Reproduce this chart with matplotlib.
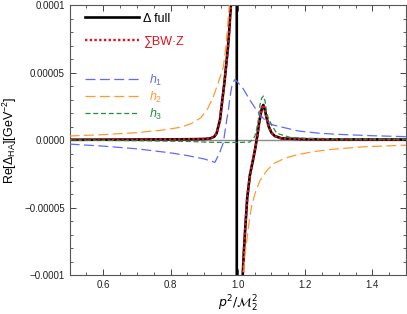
import numpy as np
import matplotlib
matplotlib.use('Agg')
import matplotlib.pyplot as plt
from matplotlib.lines import Line2D
from matplotlib.ticker import MultipleLocator, FixedLocator, FixedFormatter

plt.rcParams['font.family'] = ['Liberation Sans', 'DejaVu Sans']
plt.rcParams['mathtext.fontset'] = 'custom'
plt.rcParams['mathtext.rm'] = 'Liberation Sans'
plt.rcParams['mathtext.it'] = 'Liberation Sans:italic'
plt.rcParams['mathtext.bf'] = 'Liberation Sans:bold'

Y_UNIT = 1e-5

# ---- data (y in units of 1e-5 GeV^-2) ----
delta_x = [0.50, 0.60, 0.70, 0.80, 0.85, 0.88, 0.90, 0.918, 0.930, 0.937, 0.947, 0.954,
           0.960, 0.965, 0.970, 0.974, 0.977, 0.980, 0.990, 0.9969, 0.9971, 1.004,
           1.0147, 1.018, 1.022, 1.028, 1.036, 1.045, 1.052, 1.058, 1.063, 1.068,
           1.072, 1.076, 1.080, 1.086, 1.092, 1.100, 1.110, 1.130, 1.20, 1.30, 1.50]
delta_y = [0.02, 0.03, 0.04, 0.05, 0.06, 0.07, 0.08, 0.12, 0.25, 0.5, 1.48, 2.96,
           4.2, 5.43, 6.67, 7.9, 9.1, 10.1, 30, 50, -50, -30,
           -10, -8.3, -6.6, -4.3, -2.6, -1.5, -0.6, 0.3, 1.2, 1.9,
           2.4, 2.6, 2.3, 1.6, 1.0, 0.55, 0.3, 0.12, 0.06, 0.05, 0.04]

sumbw_x = [0.50, 0.60, 0.70, 0.80, 0.85, 0.88, 0.90, 0.918, 0.930, 0.937, 0.947, 0.954,
           0.960, 0.965, 0.970, 0.974, 0.977, 0.980, 0.990, np.nan, 1.004,
           1.0147, 1.018, 1.022, 1.028, 1.036, 1.045, 1.052, 1.058, 1.063, 1.068,
           1.072, 1.076, 1.080, 1.086, 1.092, 1.100, 1.110, 1.130, 1.20, 1.30, 1.50]
sumbw_y = [0.02, 0.03, 0.04, 0.05, 0.06, 0.07, 0.08, 0.12, 0.25, 0.5, 1.48, 2.96,
           4.2, 5.43, 6.67, 7.9, 9.1, 10.1, 30, np.nan, -30,
           -10, -8.3, -6.6, -4.3, -2.6, -1.5, -0.6, 0.3, 1.2, 1.9,
           2.4, 2.6, 2.3, 1.6, 1.0, 0.55, 0.3, 0.12, 0.06, 0.05, 0.04]

h1_x = [0.50, 0.60, 0.70, 0.80, 0.85, 0.90, 0.932, 0.945, 0.957, 0.967, 0.972, 0.977,
        0.982, 0.987, 0.992, 0.999, 1.016, 1.036, 1.056, 1.076, 1.100, 1.146, 1.18,
        1.244, 1.30, 1.40, 1.50]
h1_y = [-0.3, -0.45, -0.65, -0.95, -1.15, -1.4, -1.65, -1.0, -0.2, 1.48, 2.2, 3.2,
        3.95, 4.3, 4.5, 4.3, 3.8, 2.96, 2.2, 1.6, 1.15, 0.87, 0.67,
        0.5, 0.42, 0.32, 0.25]

h2_x = [0.50, 0.60, 0.70, 0.78, 0.83, 0.86, 0.89, 0.91, 0.927, 0.94, 0.957, 0.965,
        0.972, 0.976, 0.990, np.nan, 1.005, 1.0165, 1.022, 1.027, 1.034, 1.041, 1.052,
        1.066, 1.085, 1.106, 1.14, 1.175, 1.22, 1.274, 1.373, 1.50]
h2_y = [0.3, 0.4, 0.55, 0.75, 0.95, 1.2, 1.65, 2.3, 3.2, 4.1, 5.4, 7.0,
        9.1, 10.4, 30, np.nan, -30, -10, -8.4, -7.4, -6.0, -4.9, -3.9,
        -3.0, -2.3, -1.75, -1.35, -1.1, -0.88, -0.7, -0.5, -0.38]

h3_x = [0.50, 0.70, 0.85, 0.90, 0.95, 1.00, 1.036, 1.046, 1.051, 1.056, 1.061, 1.066,
        1.071, 1.076, 1.081, 1.086, 1.091, 1.101, 1.116, 1.155, 1.20, 1.30, 1.50]
h3_y = [0.0, -0.05, -0.1, -0.15, -0.18, -0.18, -0.15, 0.1, 0.3, 0.8, 1.5, 2.6,
        3.1, 3.26, 2.9, 2.0, 1.6, 1.1, 0.5, 0.2, 0.13, 0.09, 0.06]

x_ticks = [0.6, 0.8, 1.0, 1.2, 1.4]
y_ticks = [-1e-4, -5e-5, 0.0, 5e-5, 1e-4]
y_ticklabels = ['\u22120.0001', '\u22120.00005', '0.0000', '0.00005', '0.0001']
pole_x = 0.997

c_black = 'black'
c_red = '#e8101e'
c_blue = '#5f6cf6'
c_orange = '#ff9a30'
c_green = '#2a8a44'

fig = plt.figure(figsize=(4.07, 3.14), dpi=100)
ax = fig.add_axes([0.171, 0.124, 0.8265, 0.860])

ax.axhline(0, color='#8c8c8c', lw=1.0, zorder=1)

def sc(v):
    return np.array(v, dtype=float) * Y_UNIT

ax.plot(delta_x, sc(delta_y), color=c_black, lw=1.9, zorder=2, solid_joinstyle='round')
ax.plot(sumbw_x, sc(sumbw_y), color=c_red, lw=1.7, dashes=(1.0, 1.0), zorder=3)
ax.plot(h1_x, sc(h1_y), color=c_blue, lw=0.9, dashes=(8, 3.5), zorder=4)
ax.plot(h2_x, sc(h2_y), color=c_orange, lw=0.9, dashes=(8, 3.5), zorder=4)
ax.plot(h3_x, sc(h3_y), color=c_green, lw=0.9, dashes=(4, 2.2), zorder=4)

ax.set_xlim(0.5, 1.5)
ax.set_ylim(-1e-4, 1e-4)
ax.xaxis.set_major_locator(FixedLocator(x_ticks))
ax.xaxis.set_major_formatter(FixedFormatter([f'{v:.1f}' for v in x_ticks]))
ax.xaxis.set_minor_locator(MultipleLocator(0.05))
ax.yaxis.set_major_locator(FixedLocator(y_ticks))
ax.yaxis.set_major_formatter(FixedFormatter(y_ticklabels))
ax.yaxis.set_minor_locator(MultipleLocator(1e-5))

ax.tick_params(which='both', direction='in', top=True, right=True, colors='#444444',
               labelcolor='#222222', labelsize=7)
ax.tick_params(which='major', length=4, width=0.7)
ax.tick_params(which='minor', length=2, width=0.6)
for s in ax.spines.values():
    s.set_color('#555555')
    s.set_linewidth(0.8)

ax.set_xlabel(r'$p^2/\mathcal{M}_2^2$', fontsize=9, math_fontfamily='dejavusans', labelpad=3)
ax.set_ylabel(r'Re[$\Delta_{\mathrm{HA}}$][GeV$^{-2}$]', fontsize=9, labelpad=4)

# legends
h_a = [Line2D([], [], color=c_black, lw=1.9),
       Line2D([], [], color=c_red, lw=1.7, dashes=(1.0, 1.0))]
leg1 = ax.legend(h_a, ['\u0394 full', '\u2211BW\u00b7Z'], loc='upper left',
                 bbox_to_anchor=(0.046, 0.972), frameon=False, fontsize=9,
                 handlelength=4.3, handletextpad=0.3, labelspacing=0.85,
                 borderpad=0, borderaxespad=0, labelcolor=[c_black, c_red])
ax.add_artist(leg1)
h_b = [Line2D([], [], color=c_blue, lw=0.9, dashes=(8, 3.5)),
       Line2D([], [], color=c_orange, lw=0.9, dashes=(8, 3.5)),
       Line2D([], [], color=c_green, lw=0.9, dashes=(4, 2.2))]
ax.legend(h_b, [r'$h_1$', r'$h_2$', r'$h_3$'], loc='upper left',
          bbox_to_anchor=(0.046, 0.75), frameon=False, fontsize=9,
          handlelength=4.3, handletextpad=0.8, labelspacing=0.15,
          borderpad=0, borderaxespad=0, labelcolor=[c_blue, c_orange, c_green])

fig.savefig('out.png', dpi=100)
